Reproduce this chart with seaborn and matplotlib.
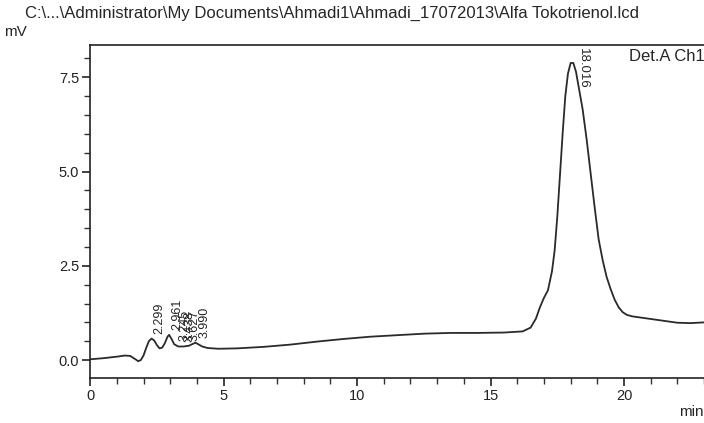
import numpy as np
import pandas as pd
import seaborn as sns
import matplotlib
matplotlib.use('Agg')
import matplotlib.pyplot as plt
from matplotlib.ticker import MultipleLocator, FormatStrFormatter

# chromatogram readings (min, mV)
time_min = [0, 0.5, 1.0, 1.3, 1.5, 1.7, 1.8, 1.9, 2.0, 2.1, 2.2, 2.3, 2.4, 2.5, 2.6,
            2.7, 2.8, 2.9, 2.96, 3.05, 3.15, 3.3, 3.5, 3.7, 3.85, 3.95, 4.05, 4.2,
            4.4, 4.8, 5.5, 6.5, 7.5, 8.5, 9.5, 10.5, 11.5, 12.5, 13.5, 14.5, 15.5,
            16.2, 16.5, 16.7, 16.85, 17.0, 17.15, 17.3, 17.4, 17.5, 17.6, 17.7, 17.8,
            17.9, 18.0, 18.1, 18.2, 18.3, 18.45, 18.6, 18.75, 18.9, 19.05, 19.2,
            19.35, 19.5, 19.65, 19.8, 19.95, 20.1, 20.3, 20.6, 21.0, 21.5, 22.0,
            22.5, 23.0, 23.5]
signal_mv = [0.02, 0.05, 0.09, 0.12, 0.11, 0.02, -0.03, 0.0, 0.12, 0.32, 0.50, 0.57,
             0.52, 0.40, 0.31, 0.33, 0.45, 0.62, 0.67, 0.56, 0.42, 0.36, 0.36, 0.38,
             0.43, 0.46, 0.42, 0.36, 0.32, 0.30, 0.31, 0.35, 0.41, 0.49, 0.56, 0.62,
             0.66, 0.70, 0.72, 0.72, 0.73, 0.76, 0.86, 1.10, 1.40, 1.65, 1.85, 2.35,
             2.9, 3.8, 4.9, 6.0, 7.0, 7.6, 7.88, 7.88, 7.65, 7.25, 6.65, 5.85, 4.95,
             4.05, 3.2, 2.65, 2.2, 1.88, 1.6, 1.4, 1.27, 1.2, 1.16, 1.13, 1.09, 1.04,
             0.99, 0.98, 1.0, 1.0]

# peak labels
small_peaks = ['2.299', '2.961', '3.245', '3.438', '3.627', '3.990']
small_peak_t = [2.299, 2.961, 3.245, 3.438, 3.627, 3.990]
small_peak_y = [0.57, 0.67, 0.38, 0.36, 0.38, 0.46]
main_peak = '18.016'
main_peak_t = 18.016
main_peak_y = 7.9

df = pd.DataFrame({'t': time_min, 'mV': signal_mv})

sns.set_style('ticks')
plt.rcParams['font.family'] = ['Liberation Sans', 'DejaVu Sans']

fig = plt.figure(figsize=(7.04, 4.23), dpi=100)
ax = fig.add_axes([0.128, 0.106, 0.948, 0.787])

sns.lineplot(data=df, x='t', y='mV', ax=ax, color='#2a2a2a', linewidth=1.3)
ax.lines[0].set_solid_joinstyle('round')

ax.set_xlim(0, 25)
ax.set_ylim(-0.48, 8.35)
ax.xaxis.set_major_locator(MultipleLocator(5))
ax.xaxis.set_minor_locator(MultipleLocator(1))
ax.yaxis.set_major_locator(MultipleLocator(2.5))
ax.yaxis.set_minor_locator(MultipleLocator(0.5))
ax.yaxis.set_major_formatter(FormatStrFormatter('%.1f'))
ax.tick_params(which='major', length=6, width=1.2, labelsize=10.5, colors='#222222', pad=2)
ax.tick_params(which='minor', length=4, width=1.0, colors='#333333')
ax.set_xlabel('')
ax.set_ylabel('')
for s in ax.spines.values():
    s.set_linewidth(1.2)
    s.set_color('#222222')

for lab, t, y in zip(small_peaks, small_peak_t, small_peak_y):
    ax.text(t + 0.3, y + 0.12, lab, rotation=90, fontsize=9, ha='center', va='bottom')
ax.text(main_peak_t + 0.45, main_peak_y + 0.37, main_peak, rotation=270, fontsize=9.5,
        ha='center', va='top')

ax.text(0.807, 0.99, 'Det.A Ch1', transform=ax.transAxes, fontsize=12, ha='left', va='top')
fig.text(0.036, 0.985, r'C:\...\Administrator\My Documents\Ahmadi1\Ahmadi_17072013\Alfa Tokotrienol.lcd',
         fontsize=12, ha='left', va='top')
fig.text(0.006, 0.94, 'mV', fontsize=11, ha='left', va='top')
fig.text(0.965, 0.01, 'min', fontsize=11, ha='left', va='bottom')

fig.savefig('out.png', dpi=100)
